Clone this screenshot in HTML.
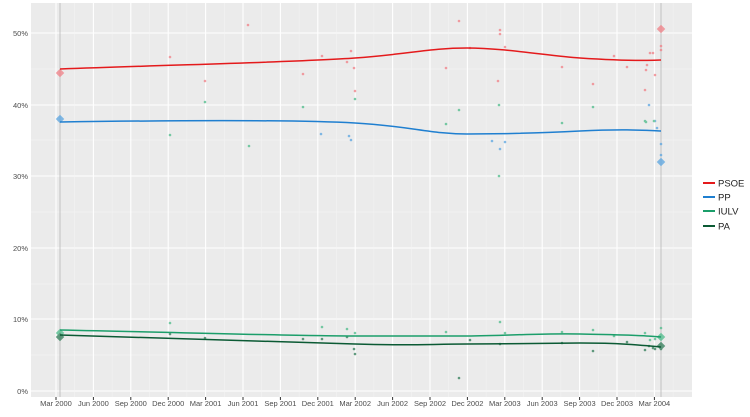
<!DOCTYPE html>
<html><head><meta charset="utf-8"><style>
body{margin:0;background:#fff}
svg{display:block;font-family:"Liberation Sans",sans-serif}
</style></head><body>
<svg width="750" height="417" viewBox="0 0 750 417">
<rect x="31" y="3" width="661" height="394" fill="#ebebeb"/>
<g stroke="#f5f5f5" stroke-width="0.6">
<line x1="31" x2="692" y1="69" y2="69"/><line x1="31" x2="692" y1="140" y2="140"/><line x1="31" x2="692" y1="212" y2="212"/><line x1="31" x2="692" y1="284" y2="284"/><line x1="31" x2="692" y1="355" y2="355"/>
</g>
<g stroke="#fff" stroke-width="1.1">
<line x1="31" x2="692" y1="33" y2="33"/><line x1="31" x2="692" y1="105" y2="105"/><line x1="31" x2="692" y1="176" y2="176"/><line x1="31" x2="692" y1="248" y2="248"/><line x1="31" x2="692" y1="319" y2="319"/><line x1="31" x2="692" y1="391" y2="391"/>
</g>
<g id="vg" stroke="#fff" stroke-width="1.1"></g>
<line x1="60" x2="60" y1="3" y2="397" stroke="#b8b8b8" stroke-width="0.8"/>
<line x1="661" x2="661" y1="3" y2="397" stroke="#b8b8b8" stroke-width="0.8"/>
<g id="pts" opacity="0.75"></g>
<path d="M60,69 C200,64 300,62 355,58 S430,48 467,48 S550,56 580,58 S640,61 661,60" fill="none" stroke="#e41a1c" stroke-width="1.5"/>
<path d="M60,122 C200,120 300,120 355,123 S430,134 467,134 S540,133 580,131 S640,130 661,131" fill="none" stroke="#1f7fd0" stroke-width="1.5"/>
<path d="M60,330 C200,333 300,336 355,336 S430,336 467,336 S540,333 580,334 S640,335 661,337" fill="none" stroke="#1b9e6a" stroke-width="1.5"/>
<path d="M60,335 C200,339 300,342 355,344 S430,344 467,344 S540,343 580,343 S640,345 661,347" fill="none" stroke="#0b5a34" stroke-width="1.5"/>
<g font-size="7.5" fill="#4d4d4d" text-anchor="end">
<text x="28" y="36">50%</text><text x="28" y="108">40%</text><text x="28" y="179">30%</text><text x="28" y="251">20%</text><text x="28" y="322">10%</text><text x="28" y="394">0%</text>
</g>
<g id="xl" font-size="7.5" fill="#4d4d4d" text-anchor="middle"></g>
<g font-size="9.5" fill="#222">
<line x1="703" x2="715" y1="183" y2="183" stroke="#e41a1c" stroke-width="2"/><text x="718" y="186.5">PSOE</text>
<line x1="703" x2="715" y1="197" y2="197" stroke="#1f7fd0" stroke-width="2"/><text x="718" y="200.5">PP</text>
<line x1="703" x2="715" y1="211" y2="211" stroke="#1b9e6a" stroke-width="2"/><text x="718" y="214.5">IULV</text>
<line x1="703" x2="715" y1="226" y2="226" stroke="#0b5a34" stroke-width="2"/><text x="718" y="229.5">PA</text>
</g>
</svg>
<script>
const ns="http://www.w3.org/2000/svg";
const lab=["Mar 2000","Jun 2000","Sep 2000","Dec 2000","Mar 2001","Jun 2001","Sep 2001","Dec 2001","Mar 2002","Jun 2002","Sep 2002","Dec 2002","Mar 2003","Jun 2003","Sep 2003","Dec 2003","Mar 2004"];
const vg=document.getElementById("vg"),xl=document.getElementById("xl");
lab.forEach((t,i)=>{const x=56+37.4*i;
let l=document.createElementNS(ns,"line");l.setAttribute("x1",x);l.setAttribute("x2",x);l.setAttribute("y1",3);l.setAttribute("y2",397);vg.appendChild(l);
let m=document.createElementNS(ns,"line");m.setAttribute("x1",x+18.7);m.setAttribute("x2",x+18.7);m.setAttribute("y1",3);m.setAttribute("y2",397);m.setAttribute("stroke-width","0.5");m.setAttribute("stroke","#f5f5f5");if(x+18.7<692)vg.appendChild(m);
let tx=document.createElementNS(ns,"text");tx.setAttribute("x",x);tx.setAttribute("y",406);tx.textContent=t;xl.appendChild(tx);
let tk=document.createElementNS(ns,"line");tk.setAttribute("x1",x);tk.setAttribute("x2",x);tk.setAttribute("y1",397);tk.setAttribute("y2",400);tk.setAttribute("stroke","#333");xl.appendChild(tk);});
const pts={"#f07f86":[[170,57],[205,81],[248,25],[303,74],[322,56],[347,62],[351,51],[354,68],[355,91],[446,68],[459,21],[470,48],[498,81],[500,34],[500,30],[505,47],[562,67],[593,84],[614,56],[627,67],[645,90],[646,70],[647,65],[650,53],[653,53],[655,75],[661,46],[661,50]],
"#5aa5e0":[[321,134],[349,136],[351,140],[492,141],[500,149],[505,142],[649,105],[655,121],[657,128],[661,144],[661,155]],
"#4dbb8a":[[170,135],[205,102],[249,146],[303,107],[355,99],[446,124],[459,110],[499,105],[499,176],[562,123],[593,107],[645,121],[646,122],[654,121],[170,323],[322,327],[347,329],[355,333],[446,332],[500,322],[505,333],[562,332],[593,330],[614,336],[645,333],[650,340],[655,339],[661,328]],
"#2f7d57":[[170,334],[205,338],[303,339],[322,339],[347,337],[354,349],[355,354],[459,378],[470,340],[500,344],[562,343],[593,351],[627,342],[645,350],[649,346],[653,348],[655,349],[661,349]]};
const g=document.getElementById("pts");
for(const c in pts)pts[c].forEach(p=>{let e=document.createElementNS(ns,"circle");e.setAttribute("cx",p[0]);e.setAttribute("cy",p[1]);e.setAttribute("r",1.3);e.setAttribute("fill",c);g.appendChild(e);});
[[60,73,"#f07f86"],[60,119,"#5aa5e0"],[60,333,"#4dbb8a"],[60,337,"#2f7d57"],[661,29,"#f07f86"],[661,162,"#5aa5e0"],[661,337,"#4dbb8a"],[661,346,"#2f7d57"]].forEach(p=>{let e=document.createElementNS(ns,"rect");e.setAttribute("x",p[0]-3);e.setAttribute("y",p[1]-3);e.setAttribute("width",6);e.setAttribute("height",6);e.setAttribute("fill",p[2]);e.setAttribute("transform",`rotate(45 ${p[0]} ${p[1]})`);g.appendChild(e);});
</script>
</body></html>
